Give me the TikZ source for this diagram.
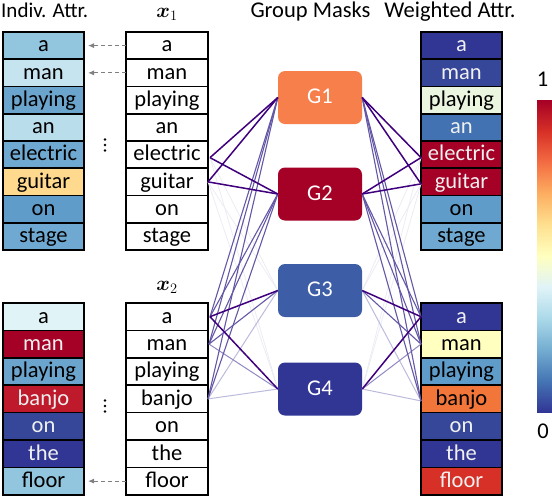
\documentclass[tikz,border=0pt]{standalone}
\usepackage{amsmath,bm}
\usepackage{fontspec}
\setmainfont{Carlito}
\usetikzlibrary{arrows.meta}
\definecolor{rdA}{HTML}{A50026}
\definecolor{rdB}{HTML}{D73027}
\definecolor{rdBanjo}{HTML}{BE1A2B}
\definecolor{orC}{HTML}{F2763A}
\definecolor{orG}{HTML}{F67F4B}
\definecolor{ylD}{HTML}{FED98E}
\definecolor{ylE}{HTML}{FFFFBF}
\definecolor{gnF}{HTML}{EAF6E0}
\definecolor{blG}{HTML}{E0F3F6}
\definecolor{blH}{HTML}{C6E4EF}
\definecolor{blI}{HTML}{BADDEC}
\definecolor{blJ}{HTML}{92C5DE}
\definecolor{blK}{HTML}{6FA9D1}
\definecolor{blL}{HTML}{6BA5CD}
\definecolor{blM}{HTML}{5F9CC9}
\definecolor{blN}{HTML}{4272B2}
\definecolor{blGthree}{HTML}{3D5EA6}
\definecolor{blO}{HTML}{36479A}
\definecolor{blP}{HTML}{313695}
\definecolor{wt}{HTML}{F0F0F0}
\definecolor{puA}{HTML}{3F007D}
\definecolor{puB}{HTML}{6457A6}
\definecolor{puC}{HTML}{8F89C2}
\definecolor{puD}{HTML}{BCBBDC}
\definecolor{puE}{HTML}{ECEBF4}
\definecolor{arrgray}{HTML}{808080}
\definecolor{cbA}{HTML}{313695}
\definecolor{cbB}{HTML}{4575B4}
\definecolor{cbC}{HTML}{74ADD1}
\definecolor{cbD}{HTML}{ABD9E9}
\definecolor{cbE}{HTML}{E0F3F8}
\definecolor{cbF}{HTML}{FFFFBF}
\definecolor{cbG}{HTML}{FEE090}
\definecolor{cbH}{HTML}{FDAE61}
\definecolor{cbI}{HTML}{F46D43}
\definecolor{cbJ}{HTML}{D73027}
\definecolor{cbK}{HTML}{A50026}
\pgfdeclareverticalshading{rdylbu}{100bp}{color(0bp)=(cbA); color(25bp)=(cbA); color(30bp)=(cbB); color(35bp)=(cbC); color(40bp)=(cbD); color(45bp)=(cbE); color(50bp)=(cbF); color(55bp)=(cbG); color(60bp)=(cbH); color(65bp)=(cbI); color(70bp)=(cbJ); color(75bp)=(cbK); color(100bp)=(cbK)}
\begin{document}
\begin{tikzpicture}[x=1pt,y=-1pt,
  font=\fontsize{22.5}{27}\selectfont,
  cell/.style={draw=black, line width=1.6pt, minimum width=81pt, minimum height=27.25pt,
    inner sep=0pt, outer sep=0pt, text height=16pt, text depth=3.4pt},
  cellb/.style={cell, minimum height=27.4pt},
  gbox/.style={rounded corners=7pt, minimum width=84pt, minimum height=53pt, inner sep=0pt,
    text=white, text height=16pt, text depth=3.4pt},
  link/.style={line width=1.2pt},
  dasharrow/.style={draw=arrgray, line width=1pt, dash pattern=on 4pt off 3pt,
    -{Latex[length=6pt,width=5pt]}},
  title/.style={anchor=base, inner sep=0pt},
  dotmark/.style={circle, fill=black, inner sep=0pt, minimum size=2.8pt}]
\useasboundingbox (0,0) rectangle (552,496);

% titles
\node[title, anchor=base west, font=\fontsize{21}{25}\selectfont] (tInd) at (1,17.5) {Indiv. Attr.};
\node[title] (tXa) at (167,17) {$\bm{x}_1$};
\node[title] (tGM) at (310.5,17.5) {Group Masks};
\node[title] (tWA) at (450,17.5) {Weighted Attr.};
\node[title] (tXb) at (167,290) {$\bm{x}_2$};

% left columns
\foreach \t/\f/\c [count=\i] in {a/blJ/black, man/blH/black, playing/blL/black, an/blI/black,
  electric/blK/black, guitar/ylD/black, on/blM/black, stage/blK/black}
  \node[cell, fill=\f, text=\c] (la\i) at (43.5,{32+27.25*(\i-0.5)}) {\t};
\foreach \t/\f/\c [count=\i] in {a/blG/black, man/rdA/wt, playing/blL/black, banjo/rdBanjo/wt,
  on/blO/wt, the/blP/wt, floor/blJ/black}
  \node[cellb, fill=\f, text=\c] (lb\i) at (43.5,{303+27.4*(\i-0.5)}) {\t};

% middle columns
\foreach \t [count=\i] in {a, man, playing, an, electric, guitar, on, stage}
  \node[cell, fill=white, minimum width=82pt] (ma\i) at (167,{32+27.25*(\i-0.5)}) {\t};
\foreach \t [count=\i] in {a, man, playing, banjo, on, the, floor}
  \node[cellb, fill=white, minimum width=82pt] (mb\i) at (167,{303+27.4*(\i-0.5)}) {\t};

% right columns
\foreach \t/\f/\c [count=\i] in {a/blP/wt, man/blO/wt, playing/gnF/black, an/blN/wt,
  electric/rdA/wt, guitar/rdA/wt, on/blM/black, stage/blK/black}
  \node[cell, fill=\f, text=\c] (ra\i) at (461.5,{32+27.25*(\i-0.5)}) {\t};
\foreach \t/\f/\c [count=\i] in {a/blP/wt, man/ylE/black, playing/blM/black, banjo/orC/black,
  on/blO/wt, the/blP/wt, floor/rdB/wt}
  \node[cellb, fill=\f, text=\c] (rb\i) at (461.5,{303+27.4*(\i-0.5)}) {\t};

% group masks
\node[gbox, fill=orG] (G1) at (320,97.5) {G1};
\node[gbox, fill=rdA] (G2) at (320,194) {G2};
\node[gbox, fill=blGthree] (G3) at (320,290.5) {G3};
\node[gbox, fill=blP] (G4) at (320,389) {G4};

% anchor points of tokens
\coordinate (lpe) at ([xshift=2pt,yshift=-3pt]ma5.east);
\coordinate (lpg) at (ma6.east);
\coordinate (lqa) at ([xshift=2pt]mb1.east);
\coordinate (lqm) at ([xshift=1pt]mb2.east);
\coordinate (lqb) at (mb4.east);
\coordinate (rpe) at ([yshift=-3pt]ra5.west);
\coordinate (rpg) at ([yshift=-2pt]ra6.west);
\coordinate (rqa) at (rb1.west);
\coordinate (rqm) at (rb2.west);
\coordinate (rqb) at ([yshift=-2pt]rb4.west);

% weighted links
\foreach \g/\k/\col/\w in {G3/pe/puE/0.8, G3/pg/puE/0.8, G4/pe/puE/0.8, G4/pg/puE/0.8,
  G3/qb/puD/1, G4/qb/puD/1, G4/qm/puC/1, G3/qm/puB/1.1,
  G1/qa/puB/1.1, G1/qm/puB/1.1, G1/qb/puB/1.1, G2/qa/puB/1.1, G2/qm/puB/1.1, G2/qb/puB/1.1,
  G3/qa/puA/1.5, G4/qa/puA/1.5,
  G1/pe/puA/1.5, G1/pg/puA/1.5, G2/pe/puA/1.5, G2/pg/puA/1.5}
{
  \draw[link, draw=\col, line width=\w pt] (l\k) -- (\g.west);
  \draw[link, draw=\col, line width=\w pt] (\g.east) -- (r\k);
}

% dashed arrows
\draw[dasharrow] (ma1.west) -- ([xshift=4pt]la1.east);
\draw[dasharrow] (ma2.west) -- ([xshift=4pt]la2.east);
\draw[dasharrow] (mb7.west) -- ([xshift=4pt]lb7.east);

% vertical ellipses
\node[dotmark] (da1) at (105,139.5) {};
\node[dotmark] (da2) at (105,145) {};
\node[dotmark] (da3) at (105,150.5) {};
\node[dotmark] (db1) at (105,400.5) {};
\node[dotmark] (db2) at (105,406) {};
\node[dotmark] (db3) at (105,411.5) {};

% colour bar
\shade[shading=rdylbu] (537,100) rectangle (552,412);
\node[title] (cb1) at (542.5,86) {1};
\node[title] (cb0) at (543,438) {0};
\end{tikzpicture}
\end{document}
